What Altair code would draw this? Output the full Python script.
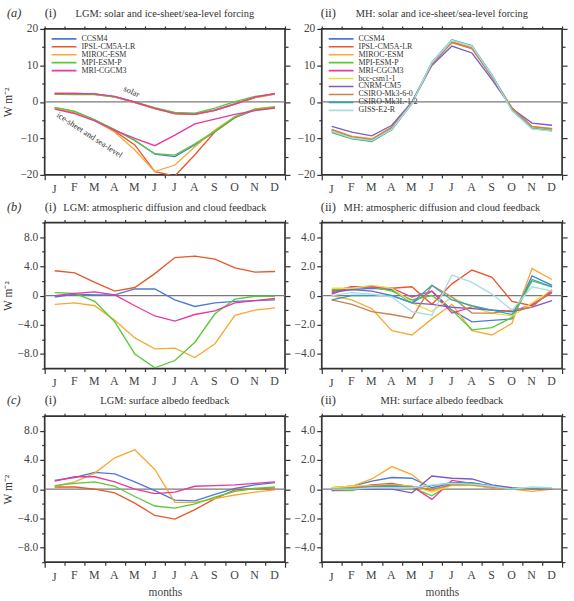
import altair as alt
import pandas as pd

FONT = "Liberation Serif"
TXT = "#333333"
LAB = "#444444"
W, H = 242, 147

months = ["J", "F", "M", "A", "M", "J", "J", "A", "S", "O", "N", "D"]
lgm_models = ["CCSM4", "IPSL-CM5A-LR", "MIROC-ESM", "MPI-ESM-P", "MRI-CGCM3"]
mh_models = lgm_models + ["bcc-csm1-1", "CNRM-CM5", "CSIRO-Mk3-6-0", "CSIRO-Mk3L-1-2", "GISS-E2-R"]
model_colors = ["#4d79d8", "#e8582a", "#f7a934", "#58c93a", "#e8399c",
                "#e6df3e", "#7a5cc4", "#c8834e", "#34a5b5", "#a9dde6"]

# (a)(i) LGM solar forcing
lgm_solar = {
    "CCSM4":        [2.2, 2.2, 2.1, 1.4, -0.1, -1.8, -3.1, -3.3, -2.2, -0.5, 1.3, 2.2],
    "IPSL-CM5A-LR": [2.3, 2.3, 2.2, 1.4, -0.1, -1.8, -3.2, -3.4, -2.3, -0.6, 1.2, 2.2],
    "MIROC-ESM":    [2.2, 2.2, 2.1, 1.3, -0.2, -1.9, -3.2, -3.4, -2.3, -0.6, 1.2, 2.1],
    "MPI-ESM-P":    [2.1, 2.0, 2.0, 1.4, 0.0, -1.6, -2.9, -3.1, -1.7, 0.1, 1.5, 2.2],
    "MRI-CGCM3":    [2.3, 2.3, 2.2, 1.5, -0.1, -1.8, -3.2, -3.4, -2.3, -0.6, 1.3, 2.3],
}
# (a)(i) LGM ice-sheet and sea-level forcing
lgm_ice = {
    "CCSM4":        [-1.6, -2.7, -5.0, -7.7, -10.5, -14.3, -15.0, -11.8, -8.2, -4.3, -2.2, -1.5],
    "IPSL-CM5A-LR": [-1.8, -2.9, -5.0, -8.0, -11.8, -19.1, -20.3, -14.5, -8.2, -4.2, -2.1, -1.6],
    "MIROC-ESM":    [-1.7, -2.8, -5.1, -8.3, -13.2, -19.1, -17.3, -12.3, -7.7, -4.0, -1.9, -1.3],
    "MPI-ESM-P":    [-1.5, -2.6, -4.9, -7.6, -10.6, -14.2, -14.6, -11.5, -8.0, -4.1, -2.0, -1.4],
    "MRI-CGCM3":    [-2.0, -3.2, -5.2, -7.8, -10.0, -12.0, -9.1, -6.0, -4.7, -3.4, -2.4, -1.7],
}
# (a)(ii) MH forcing
mh_forcing = {
    "CCSM4":          [-7.8, -9.7, -10.4, -7.2, -0.3, 10.5, 16.4, 14.8, 6.9, -2.0, -7.0, -7.6],
    "IPSL-CM5A-LR":   [-7.7, -9.6, -10.3, -7.0, -0.2, 10.6, 16.5, 14.9, 7.0, -1.8, -6.9, -7.5],
    "MIROC-ESM":      [-7.5, -9.4, -10.1, -6.9, -0.2, 10.7, 16.2, 14.6, 7.1, -1.6, -6.7, -7.3],
    "MPI-ESM-P":      [-8.4, -10.1, -10.9, -7.5, -0.4, 10.4, 16.6, 15.0, 7.2, -2.1, -7.2, -7.9],
    "MRI-CGCM3":      [-8.0, -9.9, -10.6, -7.3, -0.3, 10.5, 16.5, 14.9, 7.0, -2.0, -7.0, -7.7],
    "bcc-csm1-1":     [-7.9, -9.8, -10.5, -7.2, -0.2, 10.8, 16.7, 15.1, 7.3, -1.9, -7.0, -7.7],
    "CNRM-CM5":       [-6.7, -8.3, -9.3, -6.4, 0.0, 10.0, 15.3, 13.4, 6.1, -1.8, -5.8, -6.4],
    "CSIRO-Mk3-6-0":  [-7.6, -9.6, -10.3, -7.0, -0.2, 10.3, 16.3, 14.6, 6.8, -1.7, -6.8, -7.4],
    "CSIRO-Mk3L-1-2": [-8.2, -10.0, -10.7, -7.6, -0.5, 10.9, 17.0, 15.4, 7.4, -2.3, -7.3, -7.9],
    "GISS-E2-R":      [-8.1, -9.9, -10.6, -7.5, -0.5, 10.8, 16.9, 15.3, 7.3, -2.4, -7.4, -8.0],
}
# (b)(i) LGM atmospheric diffusion and cloud feedback
lgm_cloud = {
    "CCSM4":        [-0.2, 0.2, 0.1, 0.1, 0.9, 0.9, -0.6, -1.5, -1.0, -0.8, -0.7, -0.6],
    "IPSL-CM5A-LR": [3.4, 3.1, 1.8, 0.6, 1.1, 3.0, 5.2, 5.4, 5.0, 3.8, 3.2, 3.3],
    "MIROC-ESM":    [-1.2, -1.0, -1.4, -3.4, -5.8, -7.3, -7.2, -8.5, -6.6, -2.7, -2.0, -1.7],
    "MPI-ESM-P":    [0.4, 0.3, -0.8, -3.6, -8.0, -9.9, -8.9, -6.4, -2.5, -0.5, -0.1, -0.1],
    "MRI-CGCM3":    [0.0, 0.3, 0.5, 0.1, -1.4, -2.8, -3.5, -2.6, -2.1, -1.0, -0.7, -0.4],
}
# (b)(ii) MH atmospheric diffusion and cloud feedback
mh_cloud = {
    "CCSM4":          [0.3, 0.4, 0.5, 0.4, -0.5, 0.3, -1.0, -1.8, -1.7, -1.6, 1.35, 0.7],
    "IPSL-CM5A-LR":   [0.3, 0.6, 0.6, 0.5, 0.6, -0.6, 0.8, 1.75, 1.25, -0.4, -0.7, 0.3],
    "MIROC-ESM":      [0.0, -0.3, -0.9, -2.4, -2.7, -1.6, -0.6, -2.4, -2.7, -1.9, 1.85, 1.1],
    "MPI-ESM-P":      [0.4, 0.5, 0.6, 0.3, -0.3, 0.0, -1.0, -2.35, -2.2, -1.5, 1.0, 0.6],
    "MRI-CGCM3":      [0.1, 0.6, 0.6, 0.5, -0.1, 0.3, -1.2, -0.8, -1.0, -1.1, -0.6, 0.2],
    "bcc-csm1-1":     [0.5, 0.5, 0.7, 0.5, -0.5, -1.1, -0.1, -0.8, -1.2, -1.4, -0.5, 0.4],
    "CNRM-CM5":       [0.2, 0.4, 0.3, 0.0, -0.5, -0.6, -0.8, -0.9, -1.0, -1.1, -0.8, -0.35],
    "CSIRO-Mk3-6-0":  [-0.3, -0.6, -1.1, -1.3, -1.55, 0.7, -0.1, -1.2, -1.2, -1.0, -0.8, 0.4],
    "CSIRO-Mk3L-1-2": [-0.3, 0.0, 0.0, 0.0, -0.5, 0.7, -0.3, -0.7, -1.0, -1.3, 1.1, 0.6],
    "GISS-E2-R":      [0.0, 0.2, 0.1, -0.1, -1.1, -1.35, 1.4, 0.9, 0.1, -1.0, 0.6, 0.3],
}
# (c)(i) LGM surface albedo feedback
lgm_albedo = {
    "CCSM4":        [1.2, 1.6, 2.3, 2.1, 1.0, -0.2, -1.5, -1.6, -0.7, 0.1, 0.6, 0.9],
    "IPSL-CM5A-LR": [0.3, 0.3, 0.0, -0.5, -1.9, -3.6, -4.1, -2.8, -1.3, -0.1, 0.1, 0.0],
    "MIROC-ESM":    [0.4, 1.0, 2.2, 4.3, 5.4, 2.7, -1.8, -1.8, -1.3, -0.8, -0.4, -0.1],
    "MPI-ESM-P":    [0.5, 0.8, 1.0, 0.4, -1.0, -2.3, -2.6, -2.0, -1.1, -0.3, 0.1, 0.3],
    "MRI-CGCM3":    [1.1, 1.7, 1.7, 1.0, 0.0, -0.6, -0.4, 0.4, 0.5, 0.6, 0.8, 1.0],
}
# (c)(ii) MH surface albedo feedback
mh_albedo = {
    "CCSM4":          [0.1, 0.2, 0.55, 0.8, 0.75, 0.1, 0.4, 0.4, 0.2, 0.05, 0.0, 0.0],
    "IPSL-CM5A-LR":   [0.0, 0.1, 0.3, 0.4, 0.15, -0.1, 0.3, 0.3, 0.1, 0.0, 0.0, 0.0],
    "MIROC-ESM":      [0.1, 0.2, 0.7, 1.55, 1.0, -0.1, 0.3, 0.3, 0.1, 0.0, -0.15, 0.0],
    "MPI-ESM-P":      [-0.1, -0.1, 0.2, 0.3, 0.1, -0.45, 0.4, 0.4, 0.2, 0.0, 0.0, 0.0],
    "MRI-CGCM3":      [-0.1, 0.0, 0.2, 0.3, 0.2, -0.7, 0.6, 0.4, 0.2, 0.0, 0.0, 0.0],
    "bcc-csm1-1":     [0.1, 0.2, 0.25, 0.3, 0.2, -0.2, 0.25, 0.25, 0.15, 0.0, 0.0, 0.0],
    "CNRM-CM5":       [0.0, 0.0, 0.0, 0.0, -0.25, 0.9, 0.75, 0.7, 0.3, 0.1, 0.0, 0.0],
    "CSIRO-Mk3-6-0":  [0.0, 0.1, 0.2, 0.25, 0.15, 0.0, 0.3, 0.3, 0.15, 0.0, 0.05, 0.05],
    "CSIRO-Mk3L-1-2": [-0.05, 0.0, 0.15, 0.2, 0.1, 0.25, 0.45, 0.45, 0.2, 0.0, 0.1, 0.1],
    "GISS-E2-R":      [0.0, 0.0, 0.1, 0.1, 0.1, 0.3, 0.4, 0.35, 0.2, 0.0, 0.15, 0.1],
}

panel_letters = ["(a)", "", "(b)", "", "(c)", ""]
panel_romans = ["(i)", "(ii)", "(i)", "(ii)", "(i)", "(ii)"]
panel_titles = [
    "LGM: solar and ice-sheet/sea-level forcing",
    "MH: solar and ice-sheet/sea-level forcing",
    "LGM: atmospheric diffusion and cloud feedback",
    "MH: atmospheric diffusion and cloud feedback",
    "LGM: surface albedo feedback",
    "MH: surface albedo feedback",
]
annot_text = ["solar", "ice-sheet and sea-level"]
annot_month = [3.85, 1.75]
annot_value = [2.9, -9.0]
annot_angle = [25, 33]

ylabel = "W m\u207b\u00b2"
xlabel = "months"


def to_df(groups, models):
    rows = []
    for g, d in groups.items():
        for m in models:
            for i, v in enumerate(d[m]):
                rows.append({"group": g, "model": m, "month": i, "value": v})
    return pd.DataFrame(rows)


def make_panel(idx, groups, models, ymax, major, minor, fmt, left, bottom, legend, annot=False):
    df = to_df(groups, models)
    xs = alt.Scale(domain=[-0.5, 11.5], nice=False, zero=False)
    ys = alt.Scale(domain=[-ymax, ymax], nice=False, zero=False)
    bounds = [i - 0.5 for i in range(13)]
    n = int(round(2 * ymax / minor))
    yvals = [round(-ymax + k * minor, 3) for k in range(n + 1)]
    is_major = f"abs(datum.value % {major}) < 0.001 && abs(datum.value) < {ymax} + 0.001"
    tick_cond = {"condition": {"test": is_major, "value": 5}, "value": 3}
    month_js = "[" + ",".join(f"'{m}'" for m in months) + "]"

    if fmt == "d":
        lab = f"({is_major}) ? format(datum.value, 'd') : ''"
    else:
        lab = (f"datum.value == 0 ? '0' : ((abs(datum.value % {major}) < 0.001 && abs(datum.value) < {ymax} - 0.001)"
               f" ? format(datum.value, '.1f') : '')")

    x_bottom = alt.Axis(
        orient="bottom", values=bounds, labelExpr=f"datum.value > 11 ? '' : {month_js}[round(datum.value + 0.5)]",
        labelOffset=W / 24 - 1, labelFlush=False, labelOverlap=False, labelPadding=4,
        labelFont=FONT, labelFontSize=12, labelColor=LAB,
        tickSize={"condition": {"test": "abs(datum.value) > 11 || datum.value < 0", "value": 5}, "value": 3},
        title=xlabel if bottom else None, titlePadding=5, titleFont=FONT, titleFontSize=11.5,
        titleFontWeight="normal", titleColor=LAB, domain=False, grid=False,
    )
    y_left = alt.Axis(
        orient="left", values=yvals, labelExpr=lab, tickSize=tick_cond, labelPadding=2,
        labelFont=FONT, labelFontSize=11.5, labelColor=LAB,
        labelOverlap=False, labelFlush=False, domain=False, grid=False,
        title=ylabel if left else None, titleX=-31, titleY=H / 2, titleAngle=-90,
        titleFont=FONT, titleFontSize=11.5, titleFontWeight="normal", titleColor=TXT,
        minExtent=0,
    )
    x_top = alt.Axis(orient="top", values=bounds, labels=False, tickSize=3, title=None, domain=False, grid=False)
    y_right = alt.Axis(orient="right", values=yvals, labels=False, tickSize=tick_cond, title=None,
                       domain=False, grid=False, minExtent=0)

    zero = alt.Chart(pd.DataFrame({"z": [0]})).mark_rule(color="#7a7a7a", strokeWidth=1.2).encode(
        x=alt.X(datum=-0.5, scale=xs, axis=x_top),
        x2=alt.X2(datum=11.5),
        y=alt.Y(datum=0, scale=ys, axis=y_right),
    )

    if legend:
        leg = alt.Legend(
            orient="top-left", title=None, symbolType="stroke", symbolSize=625, symbolStrokeWidth=1.6,
            labelFont=FONT, labelFontSize=8, labelColor=TXT, clipHeight=8, rowPadding=0,
            offset=6, padding=0, labelOffset=4, labelLimit=200,
        )
    else:
        leg = None

    lines = alt.Chart(df).mark_line(strokeWidth=1.35, clip=True).encode(
        x=alt.X("month:Q", scale=xs, axis=x_bottom),
        y=alt.Y("value:Q", scale=ys, axis=y_left),
        color=alt.Color("model:N", scale=alt.Scale(domain=models, range=model_colors[:len(models)]), legend=leg),
        detail="group:N",
        order="month:Q",
    )

    layers = [zero, lines]

    hdr = []
    if panel_letters[idx]:
        hdr.append(alt.Chart(pd.DataFrame({"t": [panel_letters[idx]]})).mark_text(
            font=FONT, fontSize=12.5, fontStyle="italic", color=TXT, align="left", baseline="alphabetic"
        ).encode(x=alt.value(-38), y=alt.value(-12), text="t:N"))
    hdr.append(alt.Chart(pd.DataFrame({"t": [panel_romans[idx]]})).mark_text(
        font=FONT, fontSize=12.5, color=TXT, align="left", baseline="alphabetic"
    ).encode(x=alt.value(0 if panel_romans[idx] == "(i)" else -1), y=alt.value(-12), text="t:N"))
    hdr.append(alt.Chart(pd.DataFrame({"t": [panel_titles[idx]]})).mark_text(
        font=FONT, fontSize=10.5, color=TXT, align="center", baseline="alphabetic"
    ).encode(x=alt.value(W / 2), y=alt.value(-12), text="t:N"))
    layers += hdr

    if annot:
        adf = pd.DataFrame({"t": annot_text, "m": annot_month, "v": annot_value, "a": annot_angle})
        layers.append(alt.Chart(adf).mark_text(font=FONT, fontSize=8.5, color=TXT).encode(
            x=alt.X("m:Q", scale=xs, axis=None),
            y=alt.Y("v:Q", scale=ys, axis=None),
            angle=alt.Angle("a:Q", scale=None),
            text="t:N",
        ))

    return alt.layer(*layers).resolve_axis(x="independent", y="independent").properties(width=W, height=H)


panels = [
    make_panel(0, {"solar": lgm_solar, "ice": lgm_ice}, lgm_models, 20, 10, 5, "d", True, False, True, annot=True),
    make_panel(1, {"all": mh_forcing}, mh_models, 20, 10, 5, "d", False, False, True),
    make_panel(2, {"all": lgm_cloud}, lgm_models, 10, 4, 2, "f", True, False, False),
    make_panel(3, {"all": mh_cloud}, mh_models, 5, 2, 1, "f", False, False, False),
    make_panel(4, {"all": lgm_albedo}, lgm_models, 10, 4, 2, "f", True, True, False),
    make_panel(5, {"all": mh_albedo}, mh_models, 5, 2, 1, "f", False, True, False),
]

chart = alt.concat(
    *panels, columns=2, spacing={"row": 48, "column": 37}, bounds="flush"
).resolve_scale(
    color="independent"
).properties(
    padding={"left": 2, "top": 4, "right": 2, "bottom": 2},
    background="white",
).configure_view(
    stroke="#333333", strokeWidth=1.7
).configure_axis(
    labelFont=FONT, labelFontSize=11, labelColor=LAB, tickColor="#333333", tickWidth=1.2,
    titleFont=FONT, titleFontSize=11.5, titleFontWeight="normal", titleColor=TXT,
)

chart.save("out.html", embed_options={"renderer": "svg", "actions": False})
